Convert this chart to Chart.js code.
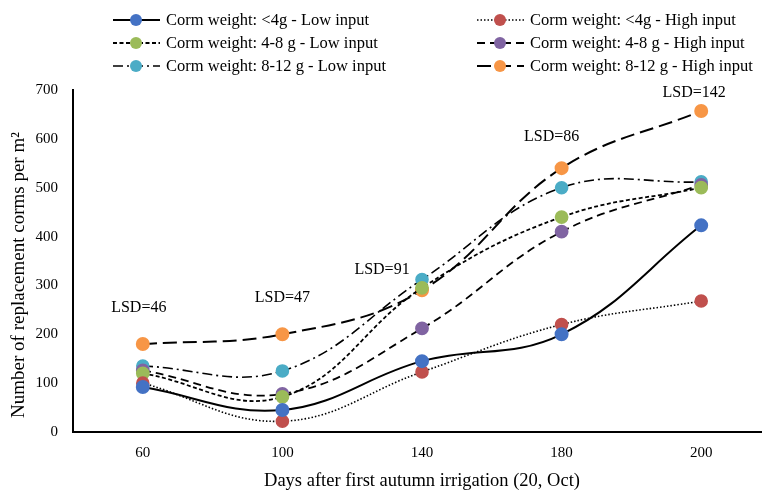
<!DOCTYPE html>
<html>
<head>
<meta charset="utf-8">
<script src="https://cdn.jsdelivr.net/npm/chart.js@4.4.1/dist/chart.umd.min.js"></script>
<style>
  html, body { margin: 0; padding: 0; background: #fff; overflow: hidden; }
  #wrap { width: 779px; height: 492px; }
</style>
</head>
<body>
<div id="wrap"><canvas id="lineChart" width="779" height="492"></canvas></div>
<script>
// data
var days = ['60', '100', '140', '180', '200'];
var lowSmall   = [92, 45, 145, 200, 423];
var highSmall  = [100, 22, 123, 220, 268];
var lowMedium  = [120, 72, 295, 440, 500];
var highMedium = [126, 78, 212, 410, 506];
var lowLarge   = [135, 125, 312, 500, 512];
var highLarge  = [180, 200, 290, 540, 657];
var lsdLabels  = ['LSD=46', 'LSD=47', 'LSD=91', 'LSD=86', 'LSD=142'];
var yTicks     = [0, 100, 200, 300, 400, 500, 600, 700];
var yTitle     = 'Number of replacement corms per m\u00B2';

var serif = "'Liberation Serif', 'Times New Roman', serif";

function series(label, data, color, dash, width) {
  return {
    label: label,
    data: data,
    borderColor: '#000',
    borderWidth: width || 1.8,
    borderDash: dash,
    backgroundColor: color,
    pointBackgroundColor: color,
    pointBorderColor: color,
    pointRadius: 6,
    pointHoverRadius: 6,
    tension: 0.4,
    fill: false
  };
}

var datasets = [
  series('Corm weight: <4g - Low input', lowSmall, '#4472C4', [], 2),
  series('Corm weight: <4g - High input', highSmall, '#C0504D', [1.5, 2], 1.6),
  series('Corm weight: 4-8 g - Low input', lowMedium, '#9BBB59', [4, 2.5], 1.8),
  series('Corm weight: 4-8 g - High input', highMedium, '#8064A2', [8, 5], 1.8),
  series('Corm weight: 8-12 g - Low input', lowLarge, '#4BACC6', [10, 4, 2, 4], 1.6),
  series('Corm weight: 8-12 g - High input', highLarge, '#F79646', [14, 6], 2)
];

// legend drawn in two columns like the original
var legendPlugin = {
  id: 'twoColLegend',
  afterDraw: function(chart) {
    var ctx = chart.ctx;
    var cols = [113, 477];
    var rows = [20, 43, 66];
    ctx.save();
    ctx.font = '16.5px ' + serif;
    ctx.textBaseline = 'middle';
    chart.data.datasets.forEach(function(ds, i) {
      var x = cols[i % 2], y = rows[Math.floor(i / 2)];
      ctx.strokeStyle = '#000';
      ctx.lineWidth = ds.borderWidth;
      ctx.setLineDash(ds.borderDash);
      ctx.beginPath();
      ctx.moveTo(x, y);
      ctx.lineTo(x + 47, y);
      ctx.stroke();
      ctx.setLineDash([]);
      ctx.beginPath();
      ctx.arc(x + 23, y, 6, 0, Math.PI * 2);
      ctx.fillStyle = ds.pointBackgroundColor;
      ctx.fill();
      ctx.fillStyle = '#000';
      ctx.textAlign = 'left';
      ctx.fillText(ds.label, x + 53, y + 1);
    });
    // y axis title, sits a bit below the plot centre in the original
    ctx.translate(19, 275);
    ctx.rotate(-Math.PI / 2);
    ctx.font = '19px ' + serif;
    ctx.textAlign = 'center';
    ctx.fillText(yTitle, 0, 0);
    ctx.restore();
  }
};

// LSD annotations above each day
var lsdPlugin = {
  id: 'lsd',
  afterDatasetsDraw: function(chart) {
    var ctx = chart.ctx;
    var xs = chart.scales.x, ys = chart.scales.y;
    var dx = [-4, 0, -40, -10, -7];
    var dy = [36, 36, 10, 31, 18];
    ctx.save();
    ctx.font = '16px ' + serif;
    ctx.fillStyle = '#000';
    ctx.textAlign = 'center';
    ctx.textBaseline = 'middle';
    lsdLabels.forEach(function(t, i) {
      var top = Math.max.apply(null, chart.data.datasets.map(function(d) { return d.data[i]; }));
      ctx.fillText(t, xs.getPixelForValue(i) + dx[i], ys.getPixelForValue(top) - dy[i]);
    });
    ctx.restore();
  }
};

var ctx = document.getElementById('lineChart');
var myChart = new Chart(ctx, {
  type: 'line',
  data: { labels: days, datasets: datasets },
  plugins: [legendPlugin, lsdPlugin],
  options: {
    responsive: false,
    animation: false,
    layout: { padding: { top: 90, left: 0, right: 0, bottom: 0 } },
    plugins: { legend: { display: false }, tooltip: { enabled: false } },
    scales: {
      x: {
        offset: true,
        grid: { display: false, drawTicks: false },
        border: { color: '#000', width: 2 },
        ticks: { color: '#000', font: { family: serif, size: 15 }, padding: 12 },
        title: { display: true, text: 'Days after first autumn irrigation (20, Oct)', color: '#000', font: { family: serif, size: 18.5 }, padding: { top: 2, bottom: 0 } },
        afterFit: function(s) { s.height = 60; }
      },
      y: {
        min: 0, max: 700,
        afterBuildTicks: function(s) { s.ticks = yTicks.map(function(v) { return { value: v }; }); },
        grid: { display: false, drawTicks: false },
        border: { color: '#000', width: 2 },
        ticks: { color: '#000', font: { family: serif, size: 15 }, padding: 15 },
        title: { display: false },
        afterFit: function(s) { s.width = 73; }
      }
    }
  }
});
</script>
</body>
</html>
